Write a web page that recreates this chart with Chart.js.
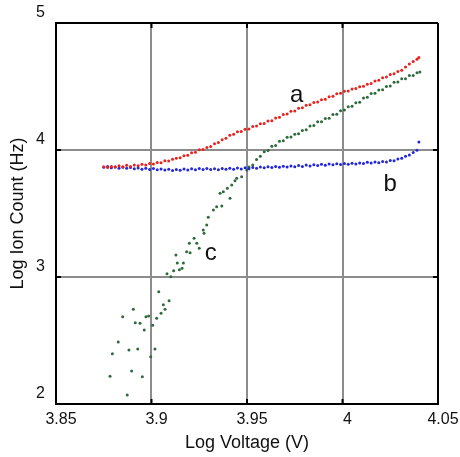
<!DOCTYPE html>
<html>
<head>
<meta charset="utf-8">
<script src="https://cdn.jsdelivr.net/npm/chart.js@4.4.0/dist/chart.umd.min.js"></script>
<style>
  html, body { margin: 0; padding: 0; background: #fff; }
  #wrap { width: 460px; height: 457px; }
</style>
</head>
<body>
<div id="wrap"><canvas id="chart"></canvas></div>
<script>
// voltage sweep shared by curves a and b (log V)
const voltageAB = [
  3.875, 3.877, 3.879, 3.881, 3.883, 3.885, 3.887, 3.889, 3.891, 3.893,
  3.895, 3.897, 3.899, 3.901, 3.903, 3.905, 3.907, 3.909, 3.911, 3.913,
  3.915, 3.917, 3.919, 3.921, 3.923, 3.925, 3.927, 3.929, 3.931, 3.933,
  3.935, 3.937, 3.939, 3.941, 3.943, 3.945, 3.947, 3.949, 3.951, 3.953,
  3.955, 3.957, 3.959, 3.961, 3.963, 3.965, 3.967, 3.969, 3.971, 3.973,
  3.975, 3.977, 3.979, 3.981, 3.983, 3.985, 3.987, 3.989, 3.991, 3.993,
  3.995, 3.997, 3.999, 4.001, 4.003, 4.005, 4.007, 4.009, 4.011, 4.013,
  4.015, 4.017, 4.019, 4.021, 4.023, 4.025, 4.027, 4.029, 4.031, 4.033,
  4.035, 4.037, 4.039, 4.040
];
// curve a (red)
const countA = [
  3.868, 3.862, 3.871, 3.866, 3.876, 3.868, 3.879, 3.871, 3.882, 3.876,
  3.887, 3.881, 3.893, 3.889, 3.902, 3.899, 3.915, 3.913, 3.928, 3.935,
  3.938, 3.955, 3.958, 3.979, 3.982, 4.001, 4.003, 4.019, 4.027, 4.050,
  4.060, 4.081, 4.093, 4.116, 4.124, 4.143, 4.146, 4.163, 4.166, 4.185,
  4.188, 4.206, 4.209, 4.228, 4.231, 4.252, 4.258, 4.280, 4.284, 4.305,
  4.308, 4.329, 4.333, 4.352, 4.356, 4.374, 4.377, 4.396, 4.400, 4.419,
  4.423, 4.443, 4.447, 4.463, 4.465, 4.481, 4.484, 4.499, 4.502, 4.517,
  4.523, 4.543, 4.549, 4.569, 4.575, 4.594, 4.600, 4.619, 4.627, 4.653,
  4.678, 4.697, 4.714, 4.728
];
// curve b (blue)
const countB = [
  3.864, 3.870, 3.860, 3.867, 3.857, 3.865, 3.856, 3.862, 3.852, 3.859,
  3.849, 3.856, 3.846, 3.854, 3.845, 3.851, 3.842, 3.849, 3.839, 3.847,
  3.840, 3.850, 3.842, 3.852, 3.844, 3.854, 3.846, 3.855, 3.847, 3.853,
  3.845, 3.855, 3.848, 3.856, 3.849, 3.858, 3.851, 3.860, 3.853, 3.863,
  3.857, 3.866, 3.860, 3.869, 3.862, 3.871, 3.864, 3.873, 3.866, 3.875,
  3.869, 3.877, 3.871, 3.881, 3.874, 3.884, 3.877, 3.887, 3.880, 3.890,
  3.883, 3.892, 3.885, 3.894, 3.887, 3.896, 3.889, 3.898, 3.893, 3.903,
  3.897, 3.906, 3.900, 3.909, 3.905, 3.917, 3.915, 3.930, 3.935, 3.950,
  3.961, 3.980, 3.998, 4.063
];
// curve c (green): scattered low-count points, then the dense part
const voltageC = [
  3.8783, 3.8795, 3.8826, 3.8849, 3.8873, 3.8882, 3.8896, 3.8905, 3.8915, 3.8928,
  3.8940, 3.8952, 3.8962, 3.8971, 3.8985, 3.8996, 3.9006, 3.9018, 3.9027, 3.9038,
  3.9050, 3.9062, 3.9071, 3.9081, 3.9092, 3.9101, 3.9116, 3.9128, 3.9135, 3.9146,
  3.9160, 3.9167, 3.9184, 3.9198, 3.9202, 3.9223, 3.9237, 3.9250, 3.9271, 3.9275,
  3.9289, 3.9297, 3.9324, 3.9341, 3.9359, 3.9368, 3.9376, 3.9397, 3.9411, 3.9420,
  3.9437, 3.9446, 3.9472, 3.9499,
  3.951, 3.953, 3.955, 3.957, 3.959, 3.961, 3.963, 3.965, 3.967, 3.969,
  3.971, 3.973, 3.975, 3.977, 3.979, 3.981, 3.983, 3.985, 3.987, 3.989,
  3.991, 3.993, 3.995, 3.997, 3.999, 4.001, 4.003, 4.005, 4.007, 4.009,
  4.011, 4.013, 4.015, 4.017, 4.019, 4.021, 4.023, 4.025, 4.027, 4.029,
  4.031, 4.033, 4.035, 4.037, 4.039, 4.0405
];
const countC = [
  2.218, 2.396, 2.488, 2.687, 2.071, 2.425, 2.260, 2.746, 2.640, 2.433,
  2.635, 2.215, 2.583, 2.687, 2.693, 2.372, 2.620, 2.433, 2.675, 2.884,
  2.714, 2.782, 2.746, 3.026, 2.813, 3.002, 3.050, 3.173, 3.110, 3.057,
  3.069, 3.110, 3.199, 3.265, 3.191, 3.305, 3.265, 3.226, 3.370, 3.344,
  3.409, 3.470, 3.528, 3.554, 3.659, 3.559, 3.672, 3.698, 3.620, 3.724,
  3.758, 3.777, 3.790, 3.843,
  3.866, 3.882, 3.925, 3.950, 3.987, 3.997, 4.030, 4.035, 4.068, 4.073,
  4.101, 4.102, 4.125, 4.127, 4.154, 4.159, 4.189, 4.193, 4.222, 4.223,
  4.249, 4.250, 4.279, 4.282, 4.310, 4.314, 4.341, 4.344, 4.372, 4.376,
  4.409, 4.415, 4.444, 4.446, 4.473, 4.474, 4.500, 4.504, 4.533, 4.535,
  4.562, 4.562, 4.586, 4.587, 4.609, 4.614
];

const xTicks = [3.85, 3.9, 3.95, 4, 4.05];
const yTicks = [2, 3, 4, 5];

// curve letters, placed in data coordinates
const curveLabels = ['a', 'b', 'c'];
const labelVoltage = [3.976, 4.025, 3.931];
const labelCount = [4.433, 3.732, 3.189];

const FONT = '"Liberation Sans", Arial, sans-serif';

function toPoints(xs, ys) {
  return xs.map((x, i) => ({ x: x, y: ys[i] }));
}

// black frame ticks pointing into the plot, plus the curve letters
const extrasPlugin = {
  id: 'extras',
  afterDraw(chart) {
    const { ctx, chartArea: a, scales } = chart;
    ctx.save();
    ctx.strokeStyle = '#000';
    ctx.lineWidth = 2;
    const len = 5;
    xTicks.forEach(v => {
      const px = scales.x.getPixelForValue(v);
      ctx.beginPath();
      ctx.moveTo(px, a.top); ctx.lineTo(px, a.top + len);
      ctx.moveTo(px, a.bottom); ctx.lineTo(px, a.bottom - len);
      ctx.stroke();
    });
    yTicks.forEach(v => {
      const py = scales.y.getPixelForValue(v);
      ctx.beginPath();
      ctx.moveTo(a.left, py); ctx.lineTo(a.left + len, py);
      ctx.moveTo(a.right, py); ctx.lineTo(a.right - len, py);
      ctx.stroke();
    });
    ctx.fillStyle = '#111';
    ctx.font = '24px ' + FONT;
    ctx.textAlign = 'center';
    ctx.textBaseline = 'middle';
    curveLabels.forEach((t, i) => {
      ctx.fillText(t, scales.x.getPixelForValue(labelVoltage[i]), scales.y.getPixelForValue(labelCount[i]));
    });
    ctx.restore();
  }
};

const edgeColor = (min, max) => c => {
  const v = c.tick && c.tick.value;
  return (Math.abs(v - min) < 1e-9 || Math.abs(v - max) < 1e-9) ? '#000' : '#8c8c8c';
};

new Chart(document.getElementById('chart'), {
  type: 'scatter',
  data: {
    datasets: [
      { label: 'a', data: toPoints(voltageAB, countA), backgroundColor: '#e8231f' },
      { label: 'b', data: toPoints(voltageAB, countB), backgroundColor: '#2327d8' },
      { label: 'c', data: toPoints(voltageC, countC), backgroundColor: '#2f6a3c' }
    ]
  },
  options: {
    responsive: true,
    maintainAspectRatio: false,
    animation: false,
    layout: { padding: { top: 23, right: 22, left: 0, bottom: 0 } },
    elements: { point: { radius: 1.5, borderWidth: 0, hoverRadius: 1.5 } },
    plugins: { legend: { display: false }, tooltip: { enabled: false } },
    scales: {
      x: {
        type: 'linear',
        min: 3.85,
        max: 4.05,
        afterFit: s => { s.height = 53; },
        afterBuildTicks: s => { s.ticks = xTicks.map(v => ({ value: v })); },
        grid: { color: edgeColor(3.85, 4.05), lineWidth: 2, drawTicks: false },
        border: { color: '#000', width: 2 },
        ticks: {
          padding: 6,
          labelOffset: 5,
          color: '#111',
          font: { family: FONT, size: 16 },
          callback: v => String(v)
        },
        title: {
          display: true,
          text: 'Log Voltage (V)',
          color: '#111',
          font: { family: FONT, size: 18 },
          padding: { top: 0, bottom: 3 }
        }
      },
      y: {
        type: 'linear',
        min: 2,
        max: 5,
        afterFit: s => { s.width = 56; },
        afterBuildTicks: s => { s.ticks = yTicks.map(v => ({ value: v })); },
        grid: { color: edgeColor(2, 5), lineWidth: 2, drawTicks: false },
        border: { color: '#000', width: 2 },
        ticks: {
          padding: 11,
          labelOffset: -10,
          color: '#111',
          font: { family: FONT, size: 16 },
          callback: v => String(v)
        },
        title: {
          display: true,
          text: 'Log Ion Count (Hz)',
          color: '#111',
          font: { family: FONT, size: 18 },
          padding: { top: 7, bottom: 0 }
        }
      }
    }
  },
  plugins: [extrasPlugin]
});
</script>
</body>
</html>
